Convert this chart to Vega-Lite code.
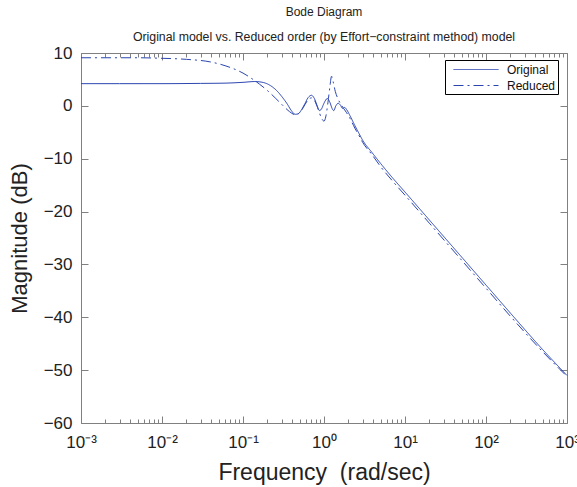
{
  "$schema": "https://vega.github.io/schema/vega-lite/v6.json",
  "width": 486,
  "height": 370,
  "autosize": "none",
  "padding": {"left": 81, "top": 53, "right": 10, "bottom": 64},
  "config": {
    "view": {"stroke": "#808080", "strokeWidth": 1},
    "font": "Liberation Sans"
  },
  "title": {
    "text": "Bode Diagram",
    "subtitle": "Original model vs. Reduced order (by Effort−constraint method) model",
    "fontSize": 12,
    "subtitleFontSize": 12.3,
    "fontWeight": "normal",
    "font": "Liberation Sans",
    "subtitleFont": "Liberation Sans",
    "color": "#222222",
    "subtitleColor": "#222222",
    "anchor": "middle",
    "offset": 0,
    "subtitlePadding": 12
  },
  "datasets": {
    "bode": [
      {"f": 0.001, "db": 4.2, "series": "Original"},
      {"f": 0.003, "db": 4.2, "series": "Original"},
      {"f": 0.01, "db": 4.2, "series": "Original"},
      {"f": 0.03, "db": 4.25, "series": "Original"},
      {"f": 0.06, "db": 4.3, "series": "Original"},
      {"f": 0.1, "db": 4.45, "series": "Original"},
      {"f": 0.14, "db": 4.6, "series": "Original"},
      {"f": 0.18, "db": 4.4, "series": "Original"},
      {"f": 0.22, "db": 3.8, "series": "Original"},
      {"f": 0.26, "db": 2.9, "series": "Original"},
      {"f": 0.3, "db": 1.8, "series": "Original"},
      {"f": 0.35, "db": 0.4, "series": "Original"},
      {"f": 0.4, "db": -1.0, "series": "Original"},
      {"f": 0.44, "db": -1.6, "series": "Original"},
      {"f": 0.48, "db": -1.5, "series": "Original"},
      {"f": 0.53, "db": -0.7, "series": "Original"},
      {"f": 0.58, "db": 0.4, "series": "Original"},
      {"f": 0.64, "db": 1.6, "series": "Original"},
      {"f": 0.7, "db": 2.0, "series": "Original"},
      {"f": 0.76, "db": 1.4, "series": "Original"},
      {"f": 0.82, "db": 0.1, "series": "Original"},
      {"f": 0.88, "db": -0.9, "series": "Original"},
      {"f": 0.93, "db": -0.6, "series": "Original"},
      {"f": 1.0, "db": 0.5, "series": "Original"},
      {"f": 1.1, "db": 1.4, "series": "Original"},
      {"f": 1.18, "db": 0.7, "series": "Original"},
      {"f": 1.26, "db": -0.5, "series": "Original"},
      {"f": 1.32, "db": -0.9, "series": "Original"},
      {"f": 1.4, "db": 0.0, "series": "Original"},
      {"f": 1.5, "db": 0.5, "series": "Original"},
      {"f": 1.6, "db": 0.1, "series": "Original"},
      {"f": 1.7, "db": -0.5, "series": "Original"},
      {"f": 1.8, "db": -0.3, "series": "Original"},
      {"f": 1.9, "db": -0.7, "series": "Original"},
      {"f": 2.1, "db": -1.9, "series": "Original"},
      {"f": 2.4, "db": -3.7, "series": "Original"},
      {"f": 2.7, "db": -5.2, "series": "Original"},
      {"f": 3.0, "db": -6.5, "series": "Original"},
      {"f": 3.9, "db": -8.8, "series": "Original"},
      {"f": 5, "db": -10.9, "series": "Original"},
      {"f": 7, "db": -13.6, "series": "Original"},
      {"f": 10, "db": -16.3, "series": "Original"},
      {"f": 20, "db": -21.6, "series": "Original"},
      {"f": 50, "db": -28.6, "series": "Original"},
      {"f": 100, "db": -33.9, "series": "Original"},
      {"f": 200, "db": -39.2, "series": "Original"},
      {"f": 500, "db": -46.1, "series": "Original"},
      {"f": 1000, "db": -51.0, "series": "Original"},
      {"f": 0.001, "db": 9.1, "series": "Reduced"},
      {"f": 0.005, "db": 9.1, "series": "Reduced"},
      {"f": 0.01, "db": 9.0, "series": "Reduced"},
      {"f": 0.02, "db": 8.8, "series": "Reduced"},
      {"f": 0.04, "db": 8.3, "series": "Reduced"},
      {"f": 0.06, "db": 7.6, "series": "Reduced"},
      {"f": 0.08, "db": 6.9, "series": "Reduced"},
      {"f": 0.1, "db": 6.2, "series": "Reduced"},
      {"f": 0.13, "db": 5.1, "series": "Reduced"},
      {"f": 0.16, "db": 4.1, "series": "Reduced"},
      {"f": 0.2, "db": 2.9, "series": "Reduced"},
      {"f": 0.25, "db": 1.5, "series": "Reduced"},
      {"f": 0.3, "db": 0.3, "series": "Reduced"},
      {"f": 0.35, "db": -0.7, "series": "Reduced"},
      {"f": 0.4, "db": -1.4, "series": "Reduced"},
      {"f": 0.44, "db": -1.7, "series": "Reduced"},
      {"f": 0.48, "db": -1.5, "series": "Reduced"},
      {"f": 0.53, "db": -0.8, "series": "Reduced"},
      {"f": 0.58, "db": 0.2, "series": "Reduced"},
      {"f": 0.64, "db": 1.2, "series": "Reduced"},
      {"f": 0.7, "db": 1.5, "series": "Reduced"},
      {"f": 0.77, "db": 0.9, "series": "Reduced"},
      {"f": 0.85, "db": -0.7, "series": "Reduced"},
      {"f": 0.93, "db": -2.3, "series": "Reduced"},
      {"f": 1.0, "db": -2.9, "series": "Reduced"},
      {"f": 1.05, "db": -2.1, "series": "Reduced"},
      {"f": 1.12, "db": 0.7, "series": "Reduced"},
      {"f": 1.18, "db": 3.5, "series": "Reduced"},
      {"f": 1.24, "db": 5.6, "series": "Reduced"},
      {"f": 1.3, "db": 4.5, "series": "Reduced"},
      {"f": 1.38, "db": 2.7, "series": "Reduced"},
      {"f": 1.48, "db": 1.4, "series": "Reduced"},
      {"f": 1.6, "db": 0.4, "series": "Reduced"},
      {"f": 1.75, "db": -0.5, "series": "Reduced"},
      {"f": 1.9, "db": -1.3, "series": "Reduced"},
      {"f": 2.1, "db": -2.4, "series": "Reduced"},
      {"f": 2.4, "db": -4.2, "series": "Reduced"},
      {"f": 2.7, "db": -5.6, "series": "Reduced"},
      {"f": 3.0, "db": -6.9, "series": "Reduced"},
      {"f": 3.9, "db": -9.2, "series": "Reduced"},
      {"f": 5, "db": -11.5, "series": "Reduced"},
      {"f": 7, "db": -14.2, "series": "Reduced"},
      {"f": 10, "db": -16.9, "series": "Reduced"},
      {"f": 20, "db": -22.2, "series": "Reduced"},
      {"f": 50, "db": -29.2, "series": "Reduced"},
      {"f": 100, "db": -34.5, "series": "Reduced"},
      {"f": 200, "db": -39.8, "series": "Reduced"},
      {"f": 500, "db": -46.5, "series": "Reduced"},
      {"f": 1000, "db": -51.2, "series": "Reduced"}
    ]
  },
  "data": {"name": "bode"},
  "layer": [
    {
      "mark": {"type": "line", "strokeWidth": 1, "interpolate": "monotone"},
      "encoding": {
        "x": {
          "field": "f",
          "type": "quantitative",
          "scale": {"type": "log", "domain": [0.001, 1000], "nice": false},
          "axis": {
            "orient": "bottom",
            "values": [0.001, 0.002, 0.003, 0.004, 0.005, 0.006, 0.007, 0.008, 0.009, 0.01, 0.02, 0.03, 0.04, 0.05, 0.06, 0.07, 0.08, 0.09, 0.1, 0.2, 0.3, 0.4, 0.5, 0.6, 0.7, 0.8, 0.9, 1, 2, 3, 4, 5, 6, 7, 8, 9, 10, 20, 30, 40, 50, 60, 70, 80, 90, 100, 200, 300, 400, 500, 600, 700, 800, 900, 1000],
            "labelExpr": "datum.value == 0.001 ? '10⁻³' : datum.value == 0.01 ? '10⁻²' : datum.value == 0.1 ? '10⁻¹' : datum.value == 1 ? '10⁰' : datum.value == 10 ? '10¹' : datum.value == 100 ? '10²' : datum.value == 1000 ? '10³' : ''",
            "tickSize": {"condition": {"test": "indexof([0.001,0.01,0.1,1,10,100,1000], datum.value) >= 0", "value": -7}, "value": -4},
            "tickColor": "#808080",
            "domain": false,
            "grid": false,
            "labelFontSize": 17,
            "labelColor": "#222222",
            "labelPadding": 18,
            "labelFlush": false,
            "labelOverlap": false,
            "labelBound": false,
            "title": "Frequency\u00a0 (rad/sec)",
            "titleFontSize": 23,
            "titleFontWeight": "normal",
            "titleColor": "#222222",
            "titlePadding": 8
          }
        },
        "y": {
          "field": "db",
          "type": "quantitative",
          "scale": {"domain": [-60, 10], "nice": false},
          "axis": {
            "values": [-60, -50, -40, -30, -20, -10, 0, 10],
            "tickSize": -7,
            "tickColor": "#808080",
            "domain": false,
            "grid": false,
            "labelFontSize": 17,
            "labelColor": "#222222",
            "labelPadding": 16,
            "labelOverlap": false,
            "labelFlush": false,
            "labelBound": false,
            "title": "Magnitude (dB)",
            "titleFontSize": 22,
            "titleFontWeight": "normal",
            "titleColor": "#222222",
            "titlePadding": 12
          }
        },
        "color": {
          "field": "series",
          "type": "nominal",
          "scale": {"domain": ["Original", "Reduced"], "range": ["#2a45b0", "#2a45b0"]},
          "legend": {
            "title": null,
            "orient": "none",
            "legendX": 364,
            "legendY": 7,
            "symbolType": "M-1,0H5.43",
            "symbolSize": 196,
            "symbolOffset": 6,
            "symbolStrokeWidth": 1,
            "labelFontSize": 12,
            "labelColor": "#111111",
            "labelOffset": 39,
            "strokeColor": "#000000",
            "fillColor": "#ffffff",
            "padding": 2,
            "rowPadding": 2
          }
        },
        "strokeDash": {
          "field": "series",
          "type": "nominal",
          "scale": {"domain": ["Original", "Reduced"], "range": [[1, 0], [10, 4, 2, 4]]},
          "legend": {
            "title": null,
            "orient": "none",
            "legendX": 364,
            "legendY": 7,
            "symbolType": "M-1,0H5.43",
            "symbolSize": 196,
            "symbolOffset": 6,
            "symbolStrokeWidth": 1,
            "labelFontSize": 12,
            "labelColor": "#111111",
            "labelOffset": 39,
            "strokeColor": "#000000",
            "fillColor": "#ffffff",
            "padding": 2,
            "rowPadding": 2
          }
        }
      }
    },
    {
      "mark": {"type": "line", "opacity": 0},
      "encoding": {
        "x": {
          "field": "f",
          "type": "quantitative",
          "scale": {"type": "log", "domain": [0.001, 1000], "nice": false},
          "axis": {
            "orient": "top",
            "values": [0.001, 0.002, 0.003, 0.004, 0.005, 0.006, 0.007, 0.008, 0.009, 0.01, 0.02, 0.03, 0.04, 0.05, 0.06, 0.07, 0.08, 0.09, 0.1, 0.2, 0.3, 0.4, 0.5, 0.6, 0.7, 0.8, 0.9, 1, 2, 3, 4, 5, 6, 7, 8, 9, 10, 20, 30, 40, 50, 60, 70, 80, 90, 100, 200, 300, 400, 500, 600, 700, 800, 900, 1000],
            "tickSize": {"condition": {"test": "indexof([0.001,0.01,0.1,1,10,100,1000], datum.value) >= 0", "value": -7}, "value": -4},
            "tickColor": "#808080",
            "domain": false,
            "grid": false,
            "labels": false,
            "title": null
          }
        },
        "y": {
          "field": "db",
          "type": "quantitative",
          "scale": {"domain": [-60, 10], "nice": false},
          "axis": {
            "orient": "right",
            "values": [-60, -50, -40, -30, -20, -10, 0, 10],
            "tickSize": -7,
            "tickColor": "#808080",
            "domain": false,
            "grid": false,
            "labels": false,
            "title": null
          }
        },
        "detail": {"field": "series", "type": "nominal"}
      }
    }
  ],
  "resolve": {"axis": {"x": "independent", "y": "independent"}}
}
